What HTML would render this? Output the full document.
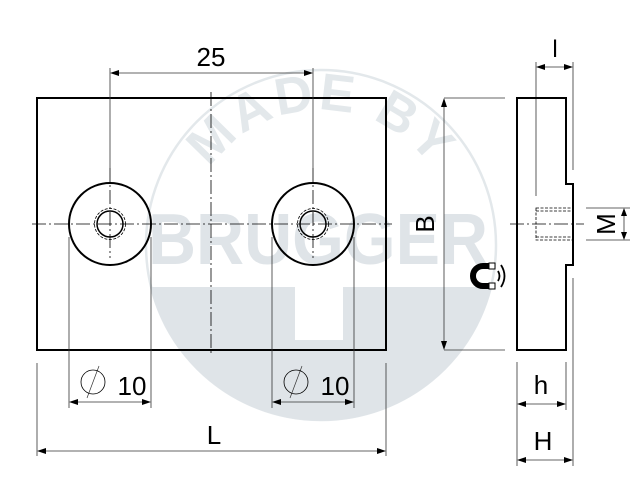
<!DOCTYPE html>
<html><head><style>
html,body{margin:0;padding:0;background:#fff;}
svg{display:block;}
text{font-family:"Liberation Sans",sans-serif;}
</style></head><body>
<svg width="640" height="479" viewBox="0 0 640 479" xmlns="http://www.w3.org/2000/svg">
<defs>
<clipPath id="cc"><circle cx="321" cy="245" r="176"/></clipPath>
<path id="arc" d="M 186 245 A 135 135 0 0 1 456 245"/>
</defs>
<!-- watermark -->
<circle cx="321" cy="245" r="175" fill="none" stroke="#e3e8eb" stroke-width="2.5"/>
<g clip-path="url(#cc)">
<rect x="140" y="287" width="370" height="150" fill="#dfe4e8"/>
<rect x="295" y="287" width="48" height="53" fill="#fff"/>
</g>
<text x="318" y="264" font-size="72" font-weight="bold" fill="#dfe4e8" text-anchor="middle" textLength="340" lengthAdjust="spacingAndGlyphs">BRUGGER</text>
<text font-size="52" font-weight="bold" fill="#e3e8eb" letter-spacing="3"><textPath href="#arc" startOffset="50%" text-anchor="middle">MADE BY</textPath></text>

<g stroke="#000" fill="none">
<rect x="37" y="98" width="349" height="252" stroke-width="2"/>
<circle cx="110" cy="224" r="41" stroke-width="2"/>
<circle cx="110" cy="224" r="13" stroke-width="1.5"/>
<circle cx="110" cy="224" r="15.5" stroke-width="0.8" stroke-dasharray="3,1.5"/>
<circle cx="313" cy="224" r="41" stroke-width="2"/>
<circle cx="313" cy="224" r="13" stroke-width="1.5"/>
<circle cx="313" cy="224" r="15.5" stroke-width="0.8" stroke-dasharray="3,1.5"/>
<g stroke-width="0.8" stroke-dasharray="14,3,2,3">
<line x1="32" y1="224" x2="392" y2="224"/>
<line x1="211" y1="92" x2="211" y2="356"/>
<line x1="110" y1="168" x2="110" y2="258"/>
<line x1="313" y1="168" x2="313" y2="258"/>
<line x1="510" y1="224" x2="584" y2="224"/>
</g>
<g stroke-width="0.8" stroke="#333">
<line x1="110" y1="68" x2="110" y2="177"/>
<line x1="313" y1="68" x2="313" y2="177"/>
<line x1="118" y1="73" x2="305" y2="73"/>
<line x1="69" y1="237" x2="69" y2="408"/>
<line x1="151" y1="237" x2="151" y2="408"/>
<line x1="272" y1="237" x2="272" y2="408"/>
<line x1="354" y1="237" x2="354" y2="408"/>
<line x1="77" y1="402" x2="143" y2="402"/>
<line x1="280" y1="402" x2="346" y2="402"/>
<line x1="37" y1="363" x2="37" y2="456"/>
<line x1="386" y1="363" x2="386" y2="456"/>
<line x1="45" y1="451" x2="378" y2="451"/>
<line x1="444" y1="98" x2="505" y2="98"/>
<line x1="444" y1="350" x2="505" y2="350"/>
<line x1="444" y1="106" x2="444" y2="342"/>
<line x1="536" y1="62" x2="536" y2="196"/>
<line x1="573" y1="62" x2="573" y2="170"/>
<line x1="573" y1="278" x2="573" y2="466"/>
<line x1="544" y1="67" x2="565" y2="67"/>
<line x1="517" y1="362" x2="517" y2="466"/>
<line x1="566" y1="362" x2="566" y2="410"/>
<line x1="525" y1="404" x2="558" y2="404"/>
<line x1="525" y1="460" x2="565" y2="460"/>
<line x1="586" y1="208" x2="630" y2="208"/>
<line x1="586" y1="240" x2="630" y2="240"/>
<line x1="624" y1="214" x2="624" y2="234"/>
<line x1="302" y1="366" x2="290" y2="398" stroke-width="0.7"/>
<line x1="99" y1="366" x2="87" y2="398" stroke-width="0.7"/>
</g>
<circle cx="296" cy="382" r="12" stroke-width="0.8"/>
<circle cx="93" cy="382" r="12" stroke-width="0.8"/>
<path d="M517 98 H566 V184 H573 V265 H566 V350 H517 Z" stroke-width="2"/>
<rect x="536" y="208" width="37" height="32" stroke-width="0.8" stroke-dasharray="3,1.5"/>
<line x1="536" y1="211" x2="573" y2="211" stroke-width="0.8" stroke-dasharray="3,1.5"/>
<line x1="536" y1="237" x2="573" y2="237" stroke-width="0.8" stroke-dasharray="3,1.5"/>
</g>
<g fill="#000">
<path d="M110 73 l9 -3 v6z"/><path d="M313 73 l-9 -3 v6z"/>
<path d="M69 402 l9 -3 v6z"/><path d="M151 402 l-9 -3 v6z"/>
<path d="M272 402 l9 -3 v6z"/><path d="M354 402 l-9 -3 v6z"/>
<path d="M37 451 l9 -3 v6z"/><path d="M386 451 l-9 -3 v6z"/>
<path d="M444 98 l-3 9 h6z"/><path d="M444 350 l-3 -9 h6z"/>
<path d="M536 67 l9 -3 v6z"/><path d="M573 67 l-9 -3 v6z"/>
<path d="M517 404 l9 -3 v6z"/><path d="M566 404 l-9 -3 v6z"/>
<path d="M517 460 l9 -3 v6z"/><path d="M573 460 l-9 -3 v6z"/>
<path d="M624 208 l-3 8 h6z"/><path d="M624 240 l-3 -8 h6z"/>
</g>
<g font-size="26" fill="#000" text-anchor="middle">
<text x="211" y="66">25</text>
<text x="132" y="395">10</text>
<text x="335" y="395">10</text>
<text x="214" y="444">L</text>
<text x="541" y="394">h</text>
<text x="543" y="450">H</text>
<text x="555" y="57" font-size="24">l</text>
<text transform="translate(434,224) rotate(-90)">B</text>
<text transform="translate(615,224) rotate(-90)">M</text>
</g>
<path d="M491 266 h-8 a10 10 0 0 0 0 20 h8" fill="none" stroke="#000" stroke-width="6"/>
<rect x="489" y="263" width="6" height="6" fill="#fff" stroke="#000" stroke-width="1"/>
<rect x="489" y="283" width="6" height="6" fill="#fff" stroke="#000" stroke-width="1"/>
<path d="M498 271 q3 5 0 10" fill="none" stroke="#000" stroke-width="1.8"/>
<path d="M501 265 q7 11 0 22" fill="none" stroke="#000" stroke-width="1.8"/>
</svg>
</body></html>
